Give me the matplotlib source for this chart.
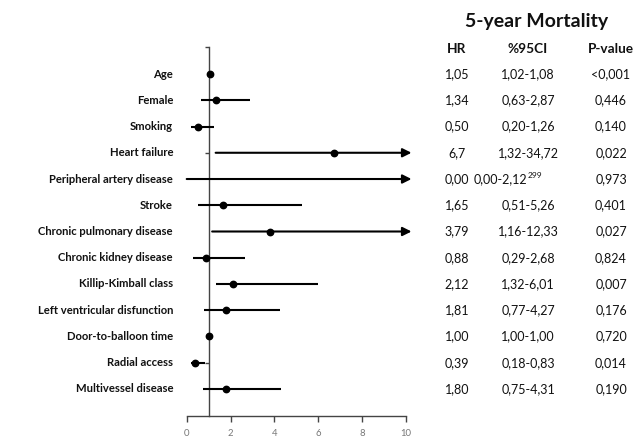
import matplotlib
matplotlib.use("Agg")
import matplotlib.pyplot as plt
from matplotlib.transforms import blended_transform_factory

categories = ["Age", "Female", "Smoking", "Heart failure", "Peripheral artery disease",
              "Stroke", "Chronic pulmonary disease", "Chronic kidney disease",
              "Killip-Kimball class", "Left ventricular disfunction",
              "Door-to-balloon time", "Radial access", "Multivessel disease"]
hr = [1.05, 1.34, 0.50, 6.7, 0.00, 1.65, 3.79, 0.88, 2.12, 1.81, 1.00, 0.39, 1.80]
ci_low = [1.02, 0.63, 0.20, 1.32, 0.00, 0.51, 1.16, 0.29, 1.32, 0.77, 1.00, 0.18, 0.75]
ci_high = [1.08, 2.87, 1.26, 34.72, 2.12e299, 5.26, 12.33, 2.68, 6.01, 4.27, 1.00, 0.83, 4.31]
hr_text = ["1,05", "1,34", "0,50", "6,7", "0,00", "1,65", "3,79", "0,88", "2,12",
           "1,81", "1,00", "0,39", "1,80"]
ci_text = ["1,02-1,08", "0,63-2,87", "0,20-1,26", "1,32-34,72", "0,00-2,12",
           "0,51-5,26", "1,16-12,33", "0,29-2,68", "1,32-6,01", "0,77-4,27",
           "1,00-1,00", "0,18-0,83", "0,75-4,31"]
ci_sup = ["", "", "", "", "299", "", "", "", "", "", "", "", ""]
p_text = ["<0,001", "0,446", "0,140", "0,022", "0,973", "0,401", "0,027", "0,824",
          "0,007", "0,176", "0,720", "0,014", "0,190"]
x_ticks = [0, 2, 4, 6, 8, 10]
title = "5-year Mortality"
headers = ["HR", "%95CI", "P-value"]

FONT = "Lato"
W, H = 635, 436
fig = plt.figure(figsize=(W / 100, H / 100), dpi=100)
ax = fig.add_axes([186.7 / W, (H - 416) / H, 219.3 / W, (416 - 47) / H])

xmax = 10
ax.set_xlim(0, xmax)
ax.set_ylim(13.03, -1.03)

n = len(categories)
for i in range(n):
    lo, hi, h = ci_low[i], ci_high[i], hr[i]
    if hi > xmax:
        ax.annotate("", xy=(xmax + 0.25, i), xytext=(lo, i),
                    arrowprops=dict(arrowstyle="-|>", mutation_scale=13, lw=1.5,
                                    color="black", shrinkA=0, shrinkB=0),
                    annotation_clip=False)
    else:
        ax.plot([lo, hi], [i, i], color="black", lw=1.5, solid_capstyle="butt", zorder=3)
    if h > 0:
        ax.plot([h], [i], marker="o", ms=4.6, color="black", zorder=4, clip_on=False)

# axes styling
for s in ["top", "right"]:
    ax.spines[s].set_visible(False)
ax.spines["left"].set_position(("data", 1))
ax.spines["left"].set_color("#444444")
ax.spines["left"].set_linewidth(1.0)
ax.spines["bottom"].set_color("#444444")
ax.spines["bottom"].set_linewidth(1.0)
ax.set_yticks([-1.03, 3, 7, 11])
ax.set_yticklabels([])
ax.tick_params(axis="y", length=3, width=1.0, color="#444444")
ax.set_xticks(x_ticks)
ax.set_xticklabels([str(t) for t in x_ticks], fontsize=6.8, color="#777777", family=FONT)
ax.tick_params(axis="x", length=4, width=1.0, color="#444444", pad=5)

# row labels
tr = blended_transform_factory(fig.transFigure, ax.transData)
for i, c in enumerate(categories):
    fig.text(173 / W, i, c, transform=tr, ha="right", va="center",
             fontsize=8.1, fontweight="bold", family=FONT, color="#111111")

# table
col_hr, col_ci, col_p = 457 / W, 528 / W, 611 / W
fig.text(537 / W, (H - 21) / H, title, ha="center", va="center", fontsize=14,
         fontweight="bold", family=FONT, color="#111111")
for x, htxt in zip([col_hr, col_ci, col_p], headers):
    fig.text(x, (H - 49) / H, htxt, ha="center", va="center", fontsize=9.8,
             fontweight="bold", family=FONT, color="#111111")
for i in range(n):
    fig.text(col_hr, i, hr_text[i], transform=tr, ha="center", va="center",
             fontsize=9, family=FONT, color="#111111")
    if ci_sup[i]:
        fig.text(527 / W, i, ci_text[i], transform=tr, ha="right", va="center",
                 fontsize=9, family=FONT, color="#111111")
        fig.text(527.5 / W, i - 0.15, ci_sup[i], transform=tr, ha="left", va="center",
                 fontsize=6, family=FONT, color="#111111")
    else:
        fig.text(col_ci, i, ci_text[i], transform=tr, ha="center", va="center",
                 fontsize=9, family=FONT, color="#111111")
    fig.text(col_p, i, p_text[i], transform=tr, ha="center", va="center",
             fontsize=9, family=FONT, color="#111111")

fig.savefig("out.png", dpi=100)
